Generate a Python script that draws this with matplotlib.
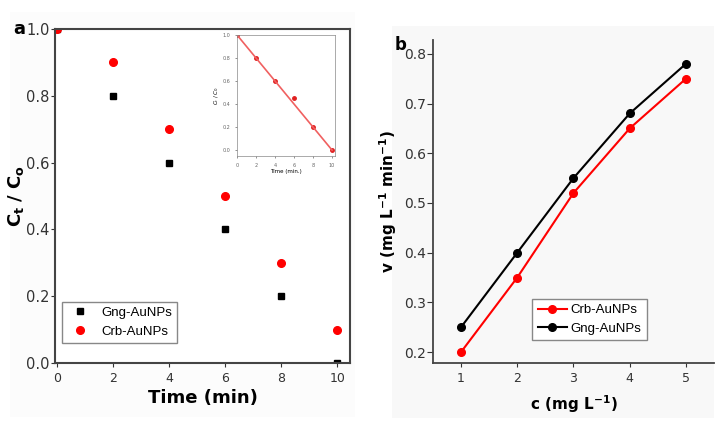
import matplotlib.pyplot as plt
from matplotlib.patches import Rectangle
from matplotlib import font_manager

# Panel a data
time_min = [0, 2, 4, 6, 8, 10]
gng_ratio = [1.0, 0.8, 0.6, 0.4, 0.2, 0.0]
crb_ratio = [1.0, 0.9, 0.7, 0.5, 0.3, 0.1]
inset_ratio = [1.0, 0.8, 0.6, 0.45, 0.2, 0.0]

# Panel b data
conc = [1, 2, 3, 4, 5]
crb_rate = [0.20, 0.35, 0.52, 0.65, 0.75]
gng_rate = [0.25, 0.40, 0.55, 0.68, 0.78]

fig = plt.figure(figsize=(7.25, 4.38), dpi=100)

# faint panel backgrounds like the scanned figure
fig.patches.append(Rectangle((392 / 725, 1 - 418 / 438), 322 / 725, 392 / 438,
                             transform=fig.transFigure, facecolor='#f8f8f8',
                             edgecolor='none', zorder=-10))
fig.patches.append(Rectangle((10 / 725, 1 - 417 / 438), 345 / 725, 405 / 438,
                             transform=fig.transFigure, facecolor='#fcfcfc',
                             edgecolor='none', zorder=-10))

# narrow legend font if available
names = {f.name for f in font_manager.fontManager.ttflist}
leg_family = 'Liberation Sans Narrow' if 'Liberation Sans Narrow' in names else 'Liberation Sans'
leg_font = {'family': leg_family, 'size': 9.5}

# ---- panel a ----
ax1 = fig.add_axes([0.076, 0.171, 0.407, 0.763])
ax1.set_facecolor('white')
ax1.plot(time_min, gng_ratio, 's', color='black', markersize=4.5, label='Gng-AuNPs')
ax1.plot(time_min, crb_ratio, 'o', color='#ff0000', markersize=5.5, label='Crb-AuNPs')
ax1.set_xlim(-0.07, 10.46)
ax1.set_ylim(0, 1.0)
ax1.set_xticks(time_min)
ax1.set_yticks([0.0, 0.2, 0.4, 0.6, 0.8, 1.0])
ax1.set_yticklabels(['0.0', '0.2', '0.4', '0.6', '0.8', '1.0'])
ax1.tick_params(axis='y', labelsize=10.5, colors='#333333', direction='out',
                length=3, pad=1)
ax1.tick_params(axis='x', labelsize=9, colors='#333333', direction='out', length=3)
for sp in ax1.spines.values():
    sp.set_linewidth(1.5)
    sp.set_color('#444444')
ax1.set_xlabel('Time (min)', fontsize=13, fontweight='bold', labelpad=3)
ax1.set_ylabel(r'$\mathbf{C_t\ /\ C_o}$', fontsize=13)
ax1.yaxis.set_label_coords(-0.1, 0.5)
ax1.text(-0.1, 1.0, 'a', transform=ax1.transAxes, ha='right', va='center',
         fontsize=13, fontweight='bold')
ax1.legend(loc='lower left', bbox_to_anchor=(0.0, 0.04), prop=leg_font,
           handletextpad=0.6, borderpad=0.4, fancybox=False,
           edgecolor='#888888', framealpha=1)

# inset
axi = fig.add_axes([0.327, 0.644, 0.135, 0.276])
axi.plot(time_min, inset_ratio, 'o', color='#e02020', markersize=2.5)
axi.plot([time_min[0], time_min[-1]], [inset_ratio[0], inset_ratio[-1]],
         '-', color='#f06060', linewidth=1.2)
axi.set_xlim(0, 10.3)
axi.set_ylim(-0.05, 1.0)
axi.set_xticks(time_min)
axi.set_yticks([0.0, 0.2, 0.4, 0.6, 0.8, 1.0])
axi.tick_params(labelsize=3.5, length=1.5, width=0.5, colors='#666666')
for sp in axi.spines.values():
    sp.set_linewidth(0.5)
    sp.set_color('#888888')
axi.set_xlabel('Time (min.)', fontsize=4, labelpad=1)
axi.set_ylabel(r'$C_t\ /\ C_0$', fontsize=4, labelpad=1)

# ---- panel b ----
ax2 = fig.add_axes([0.597, 0.171, 0.388, 0.738])
ax2.patch.set_alpha(0)
ax2.plot(conc, crb_rate, '-o', color='#ff0000', linewidth=1.5, markersize=5.5,
         label='Crb-AuNPs')
ax2.plot(conc, gng_rate, '-o', color='black', linewidth=1.5, markersize=5.5,
         label='Gng-AuNPs')
ax2.set_xlim(0.5, 5.5)
ax2.set_ylim(0.178, 0.828)
ax2.set_xticks(conc)
ax2.set_yticks([0.2, 0.3, 0.4, 0.5, 0.6, 0.7, 0.8])
ax2.spines['top'].set_visible(False)
ax2.spines['right'].set_visible(False)
for sp in ['left', 'bottom']:
    ax2.spines[sp].set_linewidth(1.3)
    ax2.spines[sp].set_color('#444444')
ax2.tick_params(axis='y', labelsize=10, colors='#333333', length=4, pad=1)
ax2.tick_params(axis='x', labelsize=9, colors='#333333', length=3)
ax2.set_xlabel(r'c (mg L$^{\mathbf{-1}}$)', fontsize=11, fontweight='bold', labelpad=6)
ax2.set_ylabel(r'v (mg L$^{\mathbf{-1}}$ min$^{\mathbf{-1}}$)', fontsize=11,
               fontweight='bold')
ax2.yaxis.set_label_coords(-0.12, 0.5)
ax2.text(-0.095, 0.985, 'b', transform=ax2.transAxes, ha='right', va='center',
         fontsize=12, fontweight='bold')
ax2.legend(loc='lower left', bbox_to_anchor=(0.33, 0.05), prop=leg_font,
           handlelength=2.2, handletextpad=0.3, borderpad=0.4, fancybox=False,
           edgecolor='#888888', framealpha=1)

fig.savefig('out.png', dpi=100)
